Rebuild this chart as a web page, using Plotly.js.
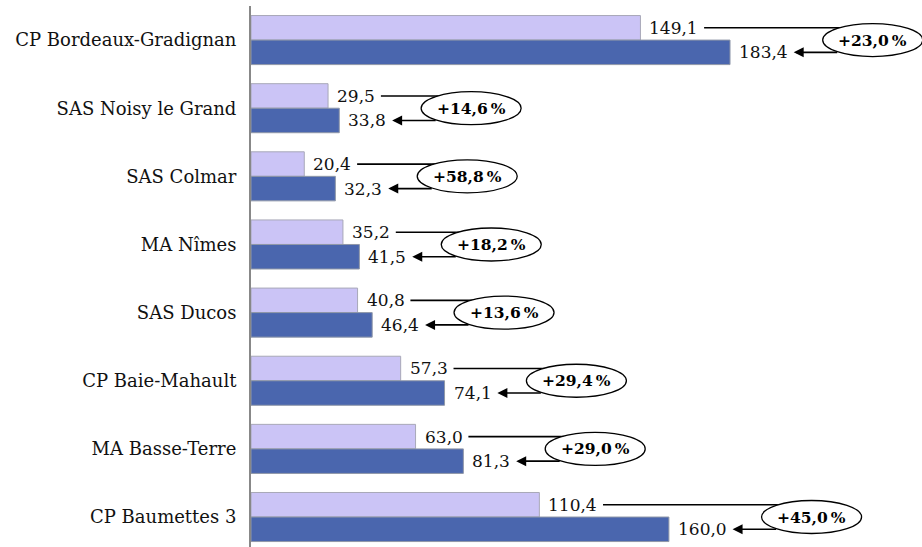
<!DOCTYPE html>
<html>
<head>
<meta charset="utf-8">
<script src="https://cdn.plot.ly/plotly-3.0.1.min.js"></script>
<style>html,body{margin:0;padding:0;background:#fff;}#chart{width:922px;height:547px;}</style>
</head>
<body>
<div id="chart"></div>
<script>
// ---- data ----
const categories = ["CP Bordeaux-Gradignan", "SAS Noisy le Grand", "SAS Colmar", "MA Nîmes", "SAS Ducos", "CP Baie-Mahault", "MA Basse-Terre", "CP Baumettes 3"];
const valuesBefore = [149.1, 29.5, 20.4, 35.2, 40.8, 57.3, 63.0, 110.4];
const valuesAfter = [183.4, 33.8, 32.3, 41.5, 46.4, 74.1, 81.3, 160.0];
const changeLabels = ["+23,0", "+14,6", "+58,8", "+18,2", "+13,6", "+29,4", "+29,0", "+45,0"];

// ---- layout constants ----
const W = 922, H = 547;
const ML = 251, MR = 0, MT = 6, MB = 0;
const plotW = W - ML - MR;
const xMax = 256.9;
const k = xMax / plotW;          // data units per pixel
const bargap = 0.28;
const barW = (1 - bargap) / 2;   // width of each bar in y units
const FONT = '"DejaVu Serif", "Liberation Serif", serif';
const FS = 17;

const idx = categories.map((_, i) => i);
const fmt = v => v.toFixed(1).replace('.', ',');

const canvas = document.createElement('canvas');
const ctx = canvas.getContext('2d');
ctx.font = FS + 'px "DejaVu Serif"';
const tw = s => ctx.measureText(s).width;

const traces = [
  {type: 'bar', orientation: 'h', x: valuesBefore, y: idx, name: 'avant',
   marker: {color: '#CBC4F6', line: {color: '#A8A8B8', width: 1}}, hoverinfo: 'skip'},
  {type: 'bar', orientation: 'h', x: valuesAfter, y: idx, name: 'après',
   marker: {color: '#4A66AE', line: {color: '#9098A8', width: 1}}, hoverinfo: 'skip'}
];

const shapes = [];
const annotations = [];
const labelGap = 9;
idx.forEach(i => {
  const a = valuesBefore[i], b = valuesAfter[i];
  const ta = fmt(a), tb = fmt(b);
  const yA = i - barW / 2, yB = i + barW / 2;
  const endA = a + (labelGap + tw(ta)) * k;
  const endB = b + (labelGap + tw(tb)) * k;
  const ellCx = endB + 85 * k;
  annotations.push({x: a, y: yA, xref: 'x', yref: 'y', text: ta, showarrow: false,
    xanchor: 'left', yanchor: 'middle', xshift: labelGap - 2, font: {family: FONT, size: FS, color: '#111'}});
  annotations.push({x: b, y: yB, xref: 'x', yref: 'y', text: tb, showarrow: false,
    xanchor: 'left', yanchor: 'middle', xshift: labelGap - 2, font: {family: FONT, size: FS, color: '#111'}});
  // line from light label to ellipse
  shapes.push({type: 'line', xref: 'x', yref: 'y', x0: endA + 6 * k, x1: ellCx, y0: yA, y1: yA,
    line: {color: '#000', width: 1.6}});
  // ellipse
  shapes.push({type: 'circle', xref: 'x', yref: 'y', xsizemode: 'pixel', ysizemode: 'pixel',
    xanchor: ellCx, yanchor: i, x0: -50, x1: 50, y0: -16.5, y1: 16.5,
    fillcolor: '#fff', line: {color: '#000', width: 1.3}});
  // arrow from ellipse to dark label
  annotations.push({x: endB + 6 * k, y: yB, ax: ellCx - 34 * k, ay: yB, xref: 'x', yref: 'y',
    axref: 'x', ayref: 'y', text: '', showarrow: true, arrowhead: 2, arrowsize: 1.25,
    arrowwidth: 1.6, arrowcolor: '#000', standoff: 0});
  // percent text
  annotations.push({x: ellCx, y: i, xref: 'x', yref: 'y', text: '<b>' + changeLabels[i] + '\u202f%</b>',
    showarrow: false, xanchor: 'center', yanchor: 'middle',
    font: {family: FONT, size: 15.5, color: '#000'}});
});

const layout = {
  width: W, height: H,
  margin: {l: ML, r: MR, t: MT, b: MB, pad: 0},
  paper_bgcolor: '#fff', plot_bgcolor: '#fff',
  showlegend: false,
  barmode: 'group', bargap: bargap, bargroupgap: 0,
  xaxis: {range: [0, xMax], visible: false, fixedrange: true},
  yaxis: {range: [7.44, -0.5], tickvals: idx, ticktext: categories, ticks: '',
    showline: true, linecolor: '#888', linewidth: 2, showgrid: false, zeroline: false,
    ticklabelstandoff: 9, tickfont: {family: FONT, size: 18, color: '#111'}, fixedrange: true},
  shapes: shapes,
  annotations: annotations
};

Plotly.newPlot('chart', traces, layout, {staticPlot: true, displayModeBar: false});
</script>
</body>
</html>
